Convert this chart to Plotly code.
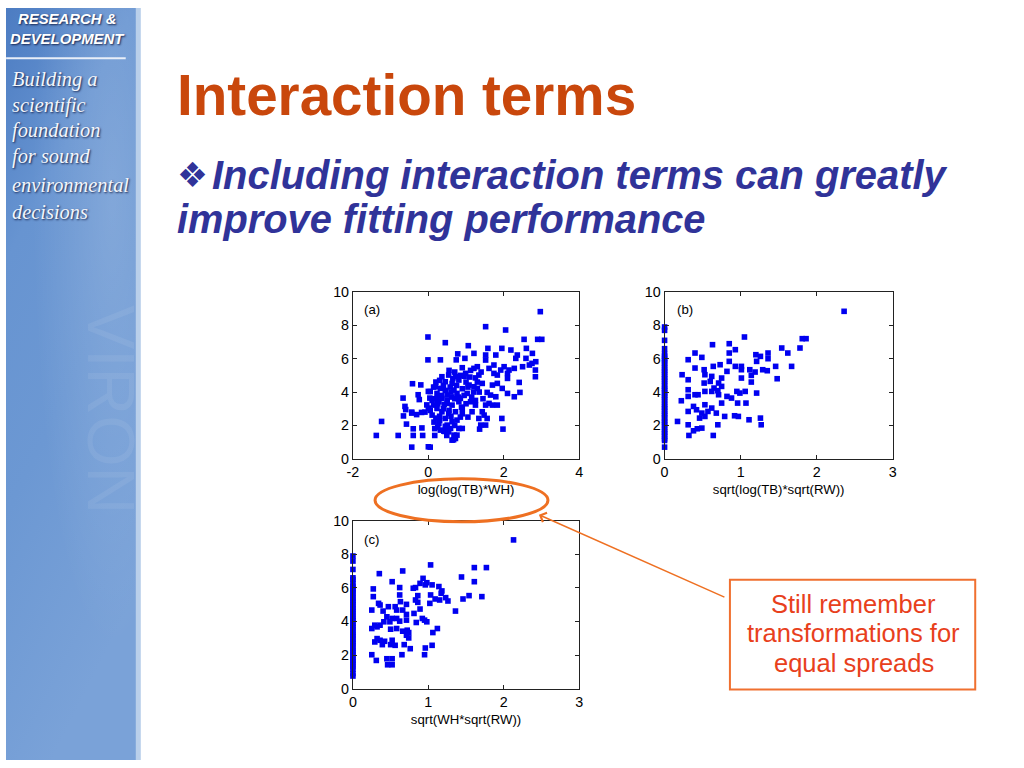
import plotly.graph_objects as go
import base64

W, H = 1024, 768

# ---------------- data ----------------
a_x = [-1.38, -1.24, -0.8, -0.67, -0.62, -0.6, -0.66, -0.58, -0.42, -0.44, -0.4, -0.4, -0.44,
       -0.2, -0.27, -0.24, -0.31, -0.18, -0.09, -0.17, -0.15, 0.0, 0.05, -0.01, -0.01, 0.45,
       0.32, 0.78, 0.74, -0.04, 0.05, 0.14, 0.23, 0.17, 0.17, 0.2, -0.44, 0.44, 0.49, 0.67,
       0.71, 0.0, 0.04, 0.0,
       0.36, 0.54, 0.72, 0.81, 0.45, 0.63, 0.19, 0.32, 0.68, 0.76, 0.23, 0.5, 0.36, 0.28,
       0.5, 0.63, 0.81, 0.14, 0.23, 0.36, 0.54, 0.72, 0.45, 0.63, 0.76, 0.5, 0.32, 0.41,
       0.54, 0.68, 0.63, 0.72, 0.59, 0.81, 0.28, 0.1,
       0.4, 0.5, 0.6, 0.7, 0.55, 0.35, 0.45, 0.65, 0.75, 0.85, 0.9, 1.0, 0.95, 1.1, 1.15,
       1.2, 1.3, 1.4, 1.0, 0.9, 1.05, 0.3, 0.25, 0.15, 0.4, 0.58, 0.62, 0.42, 0.3, 0.6,
       0.7, 0.85, 0.88, 0.95, 0.55, 0.7, 0.3, 0.2, 0.1, 0.05, 0.15, 0.25, 0.45, 0.8, 1.05,
       1.12, 1.25, 1.35, 1.25, 1.45,
       2.97, 1.52, 2.05, 2.54, 2.9, 3.01, 1.06, 1.58, 1.95, 2.19, 2.6, 1.21, 1.52, 1.79,
       2.36, 2.76, 0.97, 1.52, 2.32, 2.59, 2.85, 0.9, 1.21, 1.3, 1.61, 1.74, 1.92, 2.01,
       2.14, 2.28, 2.5, 2.68, 2.75, 2.84, 2.84, 0.99, 1.34, 1.74, 1.83, 2.1, 2.1, 2.41,
       1.08, 1.21, 1.43, 1.7, 1.83, 1.96, 2.1, 2.28, 2.43, 1.3, 1.03, 1.56, 1.65, 1.79,
       0.85, 1.12, 1.25, 1.52, 1.61, 1.7, 1.83, 0.9, 1.16, 1.43, 1.48, 1.56, 1.95, 1.34,
       1.39, 1.52, 0.9, 1.36, 1.98, 0.76]
a_y = [1.4, 2.24, 1.4, 3.64, 3.14, 2.95, 2.57, 2.08, 4.5, 2.74, 1.8, 1.4, 0.7,
       4.43, 3.84, 3.55, 2.65, 2.78, 2.8, 1.85, 1.4, 0.72, 0.7, 7.3, 5.93, 6.96,
       5.93, 6.29, 5.93, 3.23, 4.03, 4.3, 3.6, 1.81, 1.4, 2.44, 2.8, 1.64, 1.4, 1.14,
       1.34, 4.04, 3.64, 3.04,
       4.92, 5.02, 4.92, 4.72, 4.62, 4.52, 4.32, 4.22, 4.12, 3.92, 3.92, 3.82, 3.62, 3.42,
       3.32, 3.22, 3.42, 3.22, 3.02, 2.82, 2.72, 2.82, 2.42, 2.22, 2.32, 2.02, 1.72, 1.66,
       1.62, 1.42, 1.12, 1.22, 1.82, 1.82, 2.12, 2.62,
       3.0, 3.5, 4.0, 3.6, 2.9, 3.8, 4.1, 4.8, 4.4, 5.0, 4.2, 4.6, 3.8, 4.9, 3.7,
       4.0, 4.6, 5.2, 3.3, 2.7, 2.5, 2.3, 3.3, 3.6, 4.4, 4.3, 3.7, 3.25, 2.55, 2.55,
       2.0, 2.5, 3.1, 4.95, 5.3, 5.2, 4.7, 4.6, 3.5, 2.9, 2.2, 1.9, 1.95, 3.7, 4.3,
       5.3, 4.85, 4.0, 3.5, 3.6,
       8.82, 7.92, 7.72, 7.16, 7.16, 7.16, 6.78, 6.62, 6.62, 6.52, 6.62, 6.32, 6.22, 6.22,
       6.22, 6.32, 6.02, 5.92, 6.02, 6.02, 5.82, 5.46, 5.42, 5.52, 5.42, 5.62, 5.32, 5.52,
       5.32, 5.42, 5.52, 5.62, 5.72, 5.32, 4.92, 5.12, 5.02, 5.12, 5.02, 5.12, 4.82, 4.58,
       4.42, 4.32, 4.52, 4.42, 4.52, 4.22, 3.92, 3.72, 3.98, 4.22, 3.92, 3.98, 3.82, 3.72,
       3.62, 3.42, 3.22, 3.22, 3.32, 3.22, 3.22, 3.02, 2.82, 2.82, 2.62, 2.42, 2.42, 2.42,
       2.02, 2.02, 1.82, 1.78, 1.78, 1.42]

b_x = [2.36, 1.81, 1.86, 1.78, 1.62, 1.54, 1.36, 1.36, 1.2, 1.26, 1.21, 1.05, 0.93, 0.85,
       0.85, 0.63, 0.4, 0.31, 0.49, 0.23, 0.31, 0.4, 0.52, 0.53, 0.62, 0.64, 0.73, 0.82,
       0.85, 0.93, 1.01, 1.01, 1.12, 1.14, 1.19, 1.29, 1.35, 1.46, 1.67, 1.48, 1.14, 1.01,
       0.75, 0.71, 0.65, 0.6, 0.52, 0.31, 0.31, 0.4, 0.44, 0.53, 0.62, 0.7, 0.75, 0.71,
       0.82, 0.95, 0.99, 1.06, 1.21, 1.07, 0.96, 0.88, 0.75, 0.68, 0.79, 0.92, 0.97, 1.11,
       1.26, 1.27, 0.7, 0.64, 0.49, 0.43, 0.38, 0.32, 0.31, 0.17, 0.22, 0.31, 0.38, 0.42,
       0.49, 0.53, 0.46, 0.53, 0.62, 0.57]
b_y = [8.84, 7.2, 7.2, 6.64, 6.34, 6.64, 6.34, 6.0, 6.24, 6.14, 5.84, 7.3, 6.54, 6.9,
       6.34, 6.84, 6.34, 5.94, 6.08, 5.04, 4.74, 5.44, 5.34, 5.04, 4.94, 5.54, 5.64, 5.24,
       5.84, 5.54, 5.34, 5.54, 5.34, 5.0, 5.2, 5.34, 5.28, 5.54, 5.54, 4.8, 4.6, 4.84,
       4.84, 4.54, 4.24, 4.64, 4.54, 4.14, 3.74, 3.84, 3.84, 4.04, 4.04, 4.08, 4.34, 3.84,
       3.74, 4.04, 3.94, 4.04, 3.94, 3.34, 3.34, 3.64, 3.34, 2.74, 2.54, 2.58, 2.54, 2.34,
       2.44, 2.04, 2.04, 1.4, 1.84, 1.8, 1.68, 1.4, 2.04, 2.24, 3.48, 2.84, 3.14, 2.94,
       2.74, 2.54, 2.44, 3.24, 3.04, 2.84]
b_zero_y = [0.7, 1.1, 1.2, 1.35, 1.5, 1.6, 1.75, 1.9, 2.05, 2.2, 2.3, 2.45, 2.6, 2.7, 2.85,
            3.0, 3.1, 3.25, 3.4, 3.55, 3.7, 3.8, 3.95, 4.1, 4.2, 4.35, 4.5, 4.65, 4.8,
            4.9, 5.05, 5.2, 5.3, 5.45, 5.6, 5.75, 5.9, 6.0, 6.15, 6.3, 6.6, 7.1, 7.7, 7.9]

c_x = [2.13, 1.77, 1.61, 1.03, 0.66, 0.35, 1.44, 1.61, 0.52, 0.93, 0.89, 0.98, 0.96, 1.05,
       1.14, 0.8, 0.83, 0.62, 0.27, 0.27, 1.18, 1.17, 1.03, 0.86, 0.62, 1.54, 1.71, 1.46,
       1.23, 1.26, 1.15, 1.09, 1.02, 0.83, 0.86, 0.34, 0.36, 0.56, 0.47, 0.63, 0.71, 0.66,
       0.58, 0.25, 0.4, 0.89, 1.36, 0.81, 0.71, 0.45, 0.52, 0.58, 0.41, 0.49, 0.62, 0.71,
       0.92, 0.95, 0.98, 0.84, 0.29, 0.25, 0.32, 0.36, 0.5, 0.58, 0.66, 0.72, 0.74, 0.71,
       0.74, 1.12, 1.06, 0.32, 0.36, 0.42, 0.29, 0.52, 0.5, 0.39, 0.56, 0.68, 0.76, 1.05,
       0.96, 0.25, 0.31, 0.45, 0.52, 0.46, 0.52, 0.65, 0.95]
c_y = [8.86, 7.21, 7.21, 7.37, 7.01, 6.85, 6.65, 6.37, 6.37, 6.57, 6.27, 6.31, 6.18, 6.18,
       6.08, 5.98, 6.02, 6.02, 5.94, 5.48, 5.82, 5.68, 5.58, 5.54, 5.58, 5.54, 5.48, 5.34,
       5.42, 5.22, 5.28, 5.34, 5.08, 5.28, 5.14, 5.08, 4.98, 4.88, 4.88, 5.18, 5.02, 4.68,
       4.68, 4.68, 4.62, 4.74, 4.62, 4.48, 4.42, 4.28, 4.18, 4.18, 3.98, 3.98, 4.02, 4.08,
       4.18, 4.08, 3.98, 3.94, 3.78, 3.58, 3.68, 3.78, 3.54, 3.58, 3.42, 3.48, 3.34, 3.18,
       3.02, 3.58, 3.34, 2.98, 2.88, 2.82, 2.78, 2.88, 2.62, 2.62, 2.58, 2.62, 2.38, 2.58,
       2.42, 2.02, 1.68, 1.78, 1.78, 1.42, 1.42, 2.02, 2.02]
c_zero_y = [0.75, 0.9, 1.15, 1.3, 1.45, 1.6, 1.7, 1.85, 2.0, 2.15, 2.25, 2.4, 2.55, 2.7, 2.8,
            2.95, 3.1, 3.2, 3.35, 3.5, 3.65, 3.75, 3.9, 4.05, 4.15, 4.3, 4.45, 4.6, 4.75,
            4.85, 5.0, 5.15, 5.25, 5.4, 5.55, 5.7, 5.85, 5.95, 6.1, 6.25, 6.5, 6.6, 7.1,
            7.6, 7.9]

a_xticks = [-2, 0, 2, 4]
a_xticktext = ["-2", "0", "2", "4"]
bc_xticks = [0, 1, 2, 3]
y_ticks = [0, 2, 4, 6, 8, 10]
x_titles = ["log(log(TB)*WH)", "sqrt(log(TB)*sqrt(RW))", "sqrt(WH*sqrt(RW))"]
panel_labels = ["(a)", "(b)", "(c)"]

title_text = "Interaction terms"
bullet_line1 = "Including interaction terms can greatly"
bullet_line2 = "improve fitting performance"
box_lines = ["Still remember", "transformations for", "equal spreads"]
sidebar_head = ["RESEARCH &", "DEVELOPMENT"]
sidebar_lines = ["Building a", "scientific", "foundation", "for sound", "environmental", "decisions"]

# ---------------- layout helpers ----------------
# The photographed page shows the figure inset by ~8px and scaled ~0.985;
# positions below are given in target-picture pixels and mapped back.
OX, SX, OY, SY = 7.9, 0.985, 7.8, 0.98
FS = 1 / 0.982  # font compensation

def px(x):
    return max(0.0, (x - OX) / SX) / W

def py(y):
    return 1 - max(0.0, (y - OY) / SY) / H

def fs(s):
    return round(s * FS, 1)

SANS = "Liberation Sans, Arial, sans-serif"
SERIF = "Liberation Serif, Times New Roman, serif"
BLUE = "#0000f0"

fig = go.Figure()

mk = dict(symbol="square", size=5.6, color=BLUE, line=dict(width=0))
fig.add_trace(go.Scatter(x=a_x, y=a_y, mode="markers", marker=mk, xaxis="x", yaxis="y",
                         cliponaxis=False, showlegend=False))
fig.add_trace(go.Scatter(x=[0] * len(b_zero_y) + b_x, y=b_zero_y + b_y, mode="markers",
                         marker=mk, xaxis="x2", yaxis="y2", cliponaxis=False, showlegend=False))
fig.add_trace(go.Scatter(x=[0] * len(c_zero_y) + c_x, y=c_zero_y + c_y, mode="markers",
                         marker=mk, xaxis="x3", yaxis="y3", cliponaxis=False, showlegend=False))

def xax(domain, rng, ticks, ticktext, title, anchor):
    return dict(domain=domain, range=rng, tickvals=ticks, ticktext=ticktext, anchor=anchor,
                showgrid=False, zeroline=False, showline=True, linecolor="#222",
                linewidth=1, mirror="ticks", ticks="inside", ticklen=4, tickcolor="#222",
                tickfont=dict(family=SANS, size=fs(14), color="black"),
                title=dict(text=title, font=dict(family=SANS, size=fs(13), color="black"),
                           standoff=5))

def yax(domain, anchor):
    return dict(domain=domain, range=[0, 10], tickvals=y_ticks, anchor=anchor,
                showgrid=False, zeroline=False, showline=True, linecolor="#222",
                linewidth=1, mirror="ticks", ticks="inside", ticklen=4, tickcolor="#222",
                tickfont=dict(family=SANS, size=fs(14), color="black"))

dxl = [px(353), px(578)]
dxr = [px(663), px(890)]
dyt = [py(459), py(292)]
dyb = [py(689), py(521)]

fig.update_layout(
    width=W, height=H, margin=dict(l=0, r=0, t=0, b=0),
    paper_bgcolor="white", plot_bgcolor="white", showlegend=False,
    xaxis=xax(dxl, [-2, 4], a_xticks, a_xticktext, x_titles[0], "y"),
    yaxis=yax(dyt, "x"),
    xaxis2=xax(dxr, [0, 3], bc_xticks, [str(v) for v in bc_xticks], x_titles[1], "y2"),
    yaxis2=yax(dyt, "x2"),
    xaxis3=xax(dxl, [0, 3], bc_xticks, [str(v) for v in bc_xticks], x_titles[2], "y3"),
    yaxis3=yax(dyb, "x3"),
)

svg = ('<svg xmlns="http://www.w3.org/2000/svg" width="140" height="768">'
       '<defs><linearGradient id="g" x1="0" y1="0" x2="0.35" y2="1">'
       '<stop offset="0" stop-color="#4c7cc2"/>'
       '<stop offset="0.3" stop-color="#6794d1"/>'
       '<stop offset="0.6" stop-color="#6c98d3"/>'
       '<stop offset="1" stop-color="#7aa2d8"/>'
       '</linearGradient>'
       '<radialGradient id="h" cx="0.8" cy="0.25" r="0.6">'
       '<stop offset="0" stop-color="#ffffff" stop-opacity="0.16"/>'
       '<stop offset="1" stop-color="#ffffff" stop-opacity="0"/>'
       '</radialGradient></defs>'
       '<rect width="140" height="768" fill="url(#g)"/>'
       '<rect width="140" height="768" fill="url(#h)"/>'
       '</svg>')
svg_uri = "data:image/svg+xml;base64," + base64.b64encode(svg.encode()).decode()
fig.add_layout_image(dict(source=svg_uri, xref="paper", yref="paper", x=0, y=1,
                          sizex=px(140), sizey=1, xanchor="left", yanchor="top",
                          sizing="stretch", layer="below"))

shapes = []
shapes.append(dict(type="rect", xref="paper", yref="paper", x0=px(137), x1=px(142),
                   y0=0, y1=1, fillcolor="#b9cfea", line=dict(width=0), layer="below"))
shapes.append(dict(type="line", xref="paper", yref="paper", x0=px(8), x1=px(127),
                   y0=py(58), y1=py(58), line=dict(color="#e8eef8", width=2)))
shapes.append(dict(type="circle", xref="paper", yref="paper", x0=px(375), x1=px(547),
                   y0=py(522), y1=py(479), line=dict(color="#ee7022", width=3)))
shapes.append(dict(type="rect", xref="paper", yref="paper", x0=px(728), x1=px(972),
                   y0=py(690), y1=py(580), line=dict(color="#f07030", width=2),
                   fillcolor="rgba(0,0,0,0)"))
fig.update_layout(shapes=shapes)

ann = []
shadow = "1px 1px 2px rgba(10,20,60,0.85)"
for i, t in enumerate(sidebar_head):
    ann.append(dict(text="<b><i>%s</i></b>" % t, xref="paper", yref="paper",
                    x=px(69), y=py(19 + 20 * i), xanchor="center", yanchor="middle",
                    showarrow=False,
                    font=dict(family=SANS, size=fs(14.6), color="white", shadow=shadow)))
sb_y = [79, 105, 130, 156, 185, 212]
for t, yy in zip(sidebar_lines, sb_y):
    ann.append(dict(text="<i>%s</i>" % t, xref="paper", yref="paper",
                    x=px(12), y=py(yy), xanchor="left", yanchor="middle", showarrow=False,
                    font=dict(family=SERIF, size=fs(20), color="#f2f6fc", shadow=shadow)))
ann.append(dict(text="VIRON", xref="paper", yref="paper", x=px(112), y=py(410),
                textangle=90, showarrow=False, xanchor="center", yanchor="middle",
                font=dict(family=SANS, size=66, color="rgba(255,255,255,0.07)")))
ann.append(dict(text="<b>%s</b>" % title_text, xref="paper", yref="paper", x=px(176),
                y=py(95), xanchor="left", yanchor="middle", showarrow=False,
                font=dict(family=SANS, size=56.6, color="#c9470c")))
ann.append(dict(text="❖", xref="paper", yref="paper", x=px(176), y=py(175),
                xanchor="left", yanchor="middle", showarrow=False,
                font=dict(family="DejaVu Sans", size=fs(34), color="#303399")))
ann.append(dict(text="<b><i>%s</i></b>" % bullet_line1, xref="paper", yref="paper",
                x=px(211), y=py(175), xanchor="left", yanchor="middle", showarrow=False,
                font=dict(family=SANS, size=39.9, color="#303399")))
ann.append(dict(text="<b><i>%s</i></b>" % bullet_line2, xref="paper", yref="paper",
                x=px(176), y=py(219), xanchor="left", yanchor="middle", showarrow=False,
                font=dict(family=SANS, size=39.8, color="#303399")))
for lab, xx, yy in zip(panel_labels, [362, 673, 362], [310, 310, 540]):
    ann.append(dict(text=lab, xref="paper", yref="paper", x=px(xx), y=py(yy),
                    xanchor="left", yanchor="middle", showarrow=False,
                    font=dict(family=SANS, size=fs(13), color="black")))
for i, t in enumerate(box_lines):
    ann.append(dict(text=t, xref="paper", yref="paper", x=px(851), y=py(604 + 29.5 * i),
                    xanchor="center", yanchor="middle", showarrow=False,
                    font=dict(family=SANS, size=fs(25), color="#e8401c")))
ann.append(dict(text="", xref="paper", yref="paper", x=px(538), y=py(515),
                ax=round(184 / SX), ay=round(81 / SY), showarrow=True, arrowhead=4,
                arrowsize=1.3, arrowwidth=1.5, arrowcolor="#ee7022"))
fig.update_layout(annotations=ann)

reset_css = (
    "(function(){var s=document.createElement('style');"
    "s.textContent='html,body{margin:0 !important;padding:0 !important;overflow:hidden !important;"
    "background:#ffffff;}';"
    "document.head.appendChild(s);})();"
)
fig.write_html("out.html", config={"displayModeBar": False}, post_script=reset_css)
